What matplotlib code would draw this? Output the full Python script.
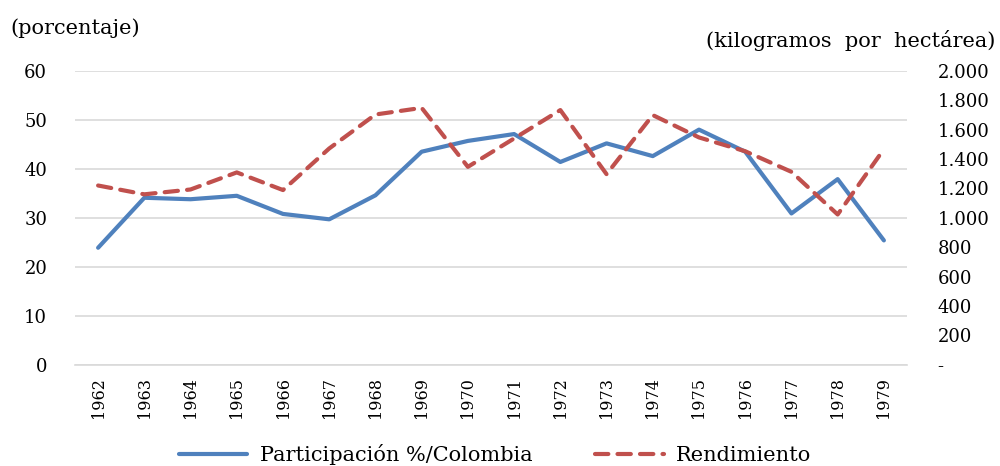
import matplotlib.pyplot as plt
from matplotlib.ticker import FuncFormatter

years = [str(y) for y in range(1962, 1980)]
participacion = [23.9, 34.1, 33.8, 34.5, 30.8, 29.7, 34.6, 43.5, 45.7, 47.1,
                 41.4, 45.2, 42.6, 48.0, 43.5, 30.9, 37.9, 25.4]
rendimiento = [1220, 1160, 1193, 1309, 1189, 1472, 1703, 1748, 1347, 1540,
               1733, 1297, 1699, 1547, 1453, 1313, 1023, 1467]

plt.rcParams["font.family"] = ["DejaVu Serif"]

fig = plt.figure(figsize=(10, 4.66), dpi=100)
ax = fig.add_axes([0.075, 0.217, 0.832, 0.631])
ax2 = ax.twinx()

x = list(range(len(years)))
l1, = ax.plot(x, participacion, color="#4F81BD", lw=3.0,
              solid_capstyle="round", label="Participación %/Colombia", zorder=3)
l2, = ax2.plot(x, rendimiento, color="#C0504D", lw=3.0, linestyle=(0, (3.2, 2.2)),
               dash_capstyle="round", label="Rendimiento", zorder=3)

ax.set_xlim(-0.5, len(years) - 0.5)
ax.set_ylim(0, 60)
ax.set_yticks(range(0, 61, 10))
ax2.set_ylim(0, 2000)
ax2.set_yticks(range(0, 2001, 200))


def miles(v, pos):
    if v == 0:
        return "-"
    return f"{int(v):,}".replace(",", ".")


ax2.yaxis.set_major_formatter(FuncFormatter(miles))

ax.grid(axis="y", color="#D9D9D9", lw=1.2)
ax.set_axisbelow(True)
for a in (ax, ax2):
    for s in a.spines.values():
        s.set_visible(False)
ax.spines["bottom"].set_visible(True)
ax.spines["bottom"].set_color("#D9D9D9")
ax.spines["bottom"].set_linewidth(1.2)

ax.set_xticks(x)
ax.set_xticklabels(years, rotation=90)
ax.tick_params(axis="x", length=0, labelsize=11.5, pad=9)
ax.tick_params(axis="y", length=0, labelsize=13, pad=20)
ax2.tick_params(axis="y", length=0, labelsize=13, pad=22)

fig.text(0.01, 0.94, "(porcentaje)", fontsize=15, ha="left", va="center")
fig.text(0.995, 0.913, "(kilogramos  por  hectárea)", fontsize=15, ha="right", va="center")

fig.legend(handles=[l1, l2], loc="center", bbox_to_anchor=(0.495, 0.025),
           ncol=2, frameon=False, fontsize=15, handlelength=3.3,
           columnspacing=3.0, handletextpad=0.6)

fig.savefig("out.png", dpi=100)
